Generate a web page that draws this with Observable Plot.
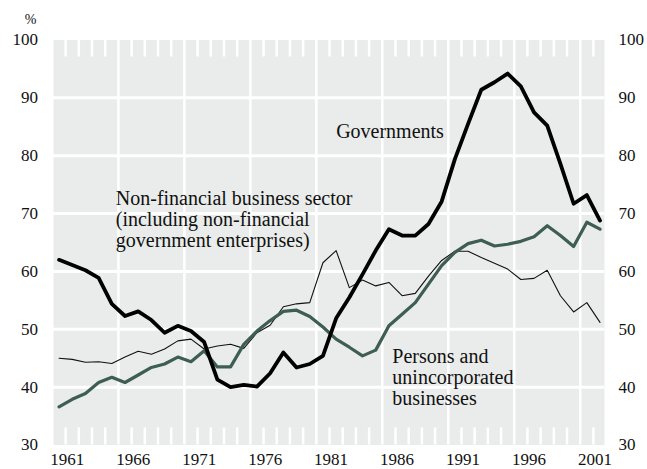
<!DOCTYPE html>
<html>
<head>
<meta charset="utf-8">
<script src="https://cdn.jsdelivr.net/npm/d3@7"></script>
<script src="https://cdn.jsdelivr.net/npm/@observablehq/plot@0.6"></script>
<style>
  body { margin: 0; background: #fff; }
  #chart svg { display: block; }
</style>
</head>
<body>
<div id="chart"></div>
<script>
// Years of observation
const years = [1960, 1961, 1962, 1963, 1964, 1965, 1966, 1967, 1968, 1969,
               1970, 1971, 1972, 1973, 1974, 1975, 1976, 1977, 1978, 1979,
               1980, 1981, 1982, 1983, 1984, 1985, 1986, 1987, 1988, 1989,
               1990, 1991, 1992, 1993, 1994, 1995, 1996, 1997, 1998, 1999,
               2000, 2001];

// Series values (%)
const governments = [62.0, 61.1, 60.2, 58.9, 54.4, 52.3, 53.1, 51.6, 49.4, 50.6,
                     49.7, 47.8, 41.3, 40.0, 40.4, 40.1, 42.4, 46.0, 43.4, 44.0,
                     45.4, 51.9, 55.5, 59.5, 63.6, 67.3, 66.2, 66.2, 68.2, 72.1,
                     79.4, 85.5, 91.4, 92.7, 94.2, 92.0, 87.5, 85.2, 78.6, 71.7,
                     73.2, 68.8];
const persons = [36.6, 37.9, 38.9, 40.8, 41.7, 40.8, 42.1, 43.4, 44.0, 45.2,
                 44.4, 46.3, 43.5, 43.5, 47.4, 49.7, 51.5, 53.1, 53.3, 52.2,
                 50.4, 48.3, 46.9, 45.4, 46.4, 50.6, 52.6, 54.6, 57.8, 61.0,
                 63.3, 64.8, 65.4, 64.4, 64.7, 65.2, 66.0, 67.9, 66.2, 64.3,
                 68.5, 67.3];
const nonFinancial = [45.0, 44.8, 44.3, 44.4, 44.1, 45.2, 46.2, 45.7, 46.6, 48.0,
                      48.3, 46.6, 47.1, 47.4, 46.7, 49.4, 50.7, 53.9, 54.4, 54.6,
                      61.5, 63.6, 57.2, 58.5, 57.5, 58.1, 55.8, 56.2, 59.2, 61.9,
                      63.5, 63.5, 62.4, 61.4, 60.4, 58.6, 58.8, 60.2, 55.8, 53.0,
                      54.6, 51.2];

// Axis ticks / labels
const yTicks = [30, 40, 50, 60, 70, 80, 90, 100];
const yGrid = [40, 50, 60, 70, 80, 90];
const xLabelYears = [1961, 1966, 1971, 1976, 1981, 1986, 1991, 1996, 2001];
const xGridYears = [1964.5, 1969.5, 1974.5, 1979.5, 1984.5, 1989.5, 1994.5, 1999.5];
const xTickYears = years.slice(0, 41).map(y => y + 0.5).filter(y => !xGridYears.includes(y));

// Annotations (placed in data space)
const annotations = [
  {label: "Governments", year: 1981.0, value: 84.2},
  {label: "Non-financial business sector\n(including non-financial\ngovernment enterprises)", year: 1964.3, value: 69.0},
  {label: "Persons and\nunincorporated\nbusinesses", year: 1985.26, value: 41.7}
];

const toRows = (vals) => years.map((year, i) => ({year, value: vals[i]}));

const GRAY = "#e9ecea";
const GREEN = "#3d5d55";

const chart = Plot.plot({
  width: 647,
  height: 469,
  marginLeft: 53,
  marginRight: 43,
  marginTop: 39.5,
  marginBottom: 24.5,
  style: {fontFamily: "'Liberation Serif', 'Times New Roman', serif", fontSize: "17px", color: "#111", background: "#fff"},
  x: {domain: [1959.58, 2001.34], axis: null},
  y: {domain: [30, 100], axis: null},
  marks: [
    Plot.frame({fill: GRAY, stroke: "none"}),
    Plot.ruleY(yGrid, {stroke: "white", strokeWidth: 3}),
    Plot.ruleX(xGridYears, {stroke: "white", strokeWidth: 2.5}),
    Plot.ruleX(xTickYears, {stroke: "white", strokeWidth: 2.5, insetBottom: 388}),
    Plot.ruleX(xTickYears, {stroke: "white", strokeWidth: 2.5, insetTop: 388}),
    Plot.line(toRows(nonFinancial), {x: "year", y: "value", stroke: "#111", strokeWidth: 1.1}),
    Plot.line(toRows(persons), {x: "year", y: "value", stroke: GREEN, strokeWidth: 3.2}),
    Plot.line(toRows(governments), {x: "year", y: "value", stroke: "#000", strokeWidth: 3.8}),
    Plot.axisY(yTicks, {anchor: "left", tickSize: 0, tickPadding: 15.5, fontSize: 17, label: null}),
    Plot.axisY(yTicks, {anchor: "right", tickSize: 0, tickPadding: 14, fontSize: 17, label: null}),
    Plot.text(xLabelYears, {x: d => d - 0.38, frameAnchor: "bottom", dy: 15, text: d => String(d), fontSize: 17, lineAnchor: "middle", textAnchor: "middle"}),
    Plot.text(["%"], {frameAnchor: "top-left", dx: -23, dy: -20, text: d => d, fontSize: 14, textAnchor: "middle", lineAnchor: "middle"}),
    Plot.text(annotations, {x: "year", y: "value", text: "label", textAnchor: "start", lineAnchor: "middle", fontSize: 20, lineHeight: 1.05, fill: "#111"})
  ]
});

document.getElementById("chart").appendChild(chart);
</script>
</body>
</html>
